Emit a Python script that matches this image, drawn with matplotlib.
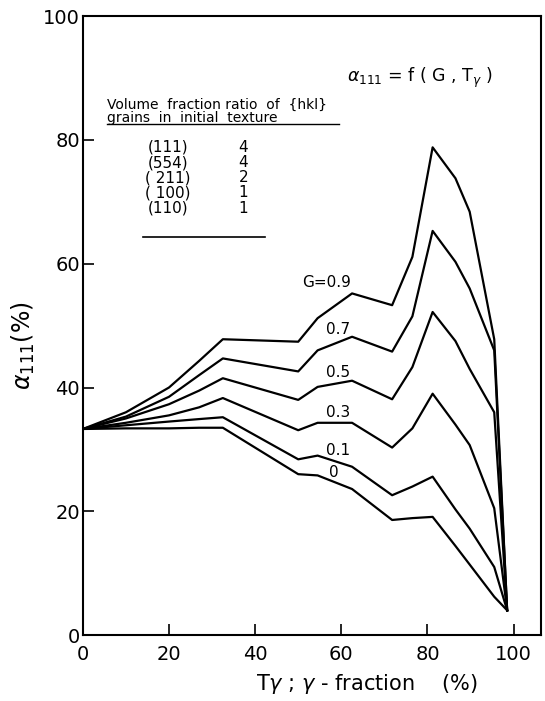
import matplotlib
matplotlib.use("Agg")
import matplotlib.pyplot as plt

plt.rcParams["font.family"] = ["DejaVu Sans"]
plt.rcParams["mathtext.fontset"] = "dejavusans"

# T_gamma grid (%) shared by all curves
t_gamma = [0, 10, 20, 27, 32.5, 50, 54.5, 62.5, 71.8, 76.5, 81.2, 86.5, 89.8, 95.5, 98.5]

# alpha_111 (%) for each G
g_labels = ["G=0.9", "0.7", "0.5", "0.3", "0.1", "0"]
a_g09 = [33.3, 36.0, 40.0, 44.3, 47.8, 47.4, 51.2, 55.2, 53.3, 61.1, 78.8, 73.8, 68.4, 47.8, 4.0]
a_g07 = [33.3, 35.3, 38.5, 42.0, 44.7, 42.6, 46.0, 48.2, 45.8, 51.5, 65.3, 60.3, 56.0, 46.0, 4.0]
a_g05 = [33.3, 35.0, 37.3, 39.5, 41.5, 38.0, 40.1, 41.1, 38.1, 43.3, 52.2, 47.5, 43.0, 36.0, 4.0]
a_g03 = [33.3, 34.3, 35.5, 36.8, 38.3, 33.1, 34.3, 34.3, 30.3, 33.4, 39.0, 34.0, 30.7, 20.5, 4.0]
a_g01 = [33.3, 33.9, 34.5, 34.9, 35.2, 28.4, 29.0, 27.2, 22.6, 24.0, 25.6, 20.3, 17.2, 11.0, 4.0]
a_g00 = [33.3, 33.4, 33.4, 33.5, 33.5, 26.0, 25.8, 23.6, 18.6, 18.9, 19.1, 14.4, 11.4, 6.2, 4.0]
curves = [a_g09, a_g07, a_g05, a_g03, a_g01, a_g00]

# initial texture table
planes = ["(111)", "(554)", "( 211)", "( 100)", "(110)"]
ratios = ["4", "4", "2", "1", "1"]

fig = plt.figure(figsize=(5.45, 7.01), dpi=100)
ax = fig.add_axes([0.152, 0.094, 0.841, 0.883])

for a in curves:
    ax.plot(t_gamma, a, color="black", lw=1.6)

ax.set_xlim(0, 106.4)
ax.set_ylim(0, 100)
ax.set_xticks([0, 20, 40, 60, 80, 100])
ax.set_yticks([0, 20, 40, 60, 80, 100])
ax.tick_params(direction="in", length=8, width=1.2, labelsize=14)
ax.tick_params(axis="x", pad=7)
ax.tick_params(axis="y", pad=2)
for s in ax.spines.values():
    s.set_linewidth(1.5)

# curve labels
lab_pos = [(56.6, 56.9), (59.3, 49.4), (59.3, 42.5), (59.3, 36.0), (59.3, 29.9), (58.2, 26.3)]
for lab, (x, y) in zip(g_labels, lab_pos):
    ax.text(x, y, lab, ha="center", va="center", fontsize=11)

ax.text(61.4, 90.0, r"$\alpha_{111}$ = f ( G , T$_\gamma$ )", fontsize=12.5, va="center")

# table
ax.text(5.6, 85.7, "Volume  fraction ratio  of  {hkl}", fontsize=10, va="center")
ax.text(5.6, 83.6, "grains  in  initial  texture", fontsize=10, va="center")
ax.plot([5.6, 59.5], [82.5, 82.5], color="black", lw=1.0)
for i, (p, r) in enumerate(zip(planes, ratios)):
    y = 78.8 - i * 2.45
    ax.text(19.7, y, p, ha="center", va="center", fontsize=11)
    ax.text(37.3, y, r, ha="center", va="center", fontsize=11)
ax.plot([13.9, 42.4], [64.3, 64.3], color="black", lw=1.2)

ax.set_xlabel(r"T$\gamma$ ; $\gamma$ - fraction    (%)", fontsize=15)
ax.xaxis.set_label_coords(0.62, -0.06)
ax.set_ylabel(r"$\alpha_{111}$(%)", fontsize=17)
ax.yaxis.set_label_coords(-0.10, 0.467)

fig.savefig("out.png", dpi=100)
